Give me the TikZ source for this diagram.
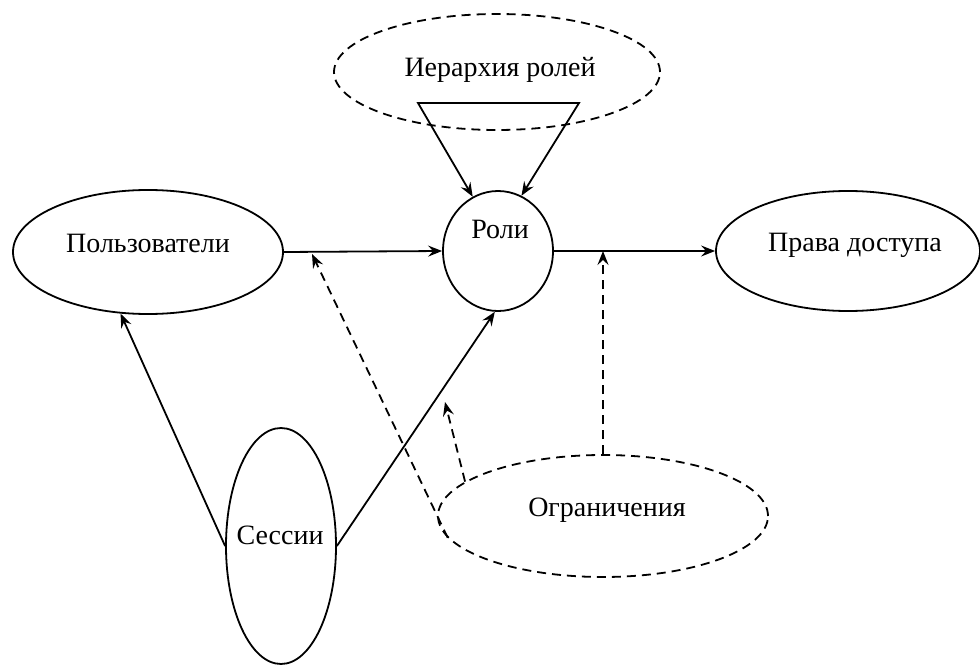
\documentclass[tikz,border=0pt]{standalone}
\usepackage{fontspec}
\setmainfont{Liberation Serif}
\usetikzlibrary{shapes.geometric,arrows.meta,calc}
\begin{document}
\begin{tikzpicture}[x=1pt,y=-1pt,
  every node/.style={inner sep=0pt},
  ell/.style={ellipse,draw,line width=1.8pt,inner sep=0pt},
  dsh/.style={dash pattern=on 9pt off 6pt},
  lbl/.style={font=\fontsize{28}{32}\selectfont},
  ln/.style={line width=1.8pt},
  arr/.style={ln,-{Stealth[length=14pt,width=11pt,inset=5pt]}},
  darr/.style={ln,dsh,-{Stealth[length=14pt,width=11pt,inset=5pt]}}]
\useasboundingbox (0,0) rectangle (980,666);
% shapes
\node[ell,dsh,minimum width=326pt,minimum height=116pt] (hier) at (497,72) {};
\node[ell,minimum width=270pt,minimum height=124pt] (pol) at (148,252) {};
\node[ell,minimum width=110pt,minimum height=120pt] (rol) at (498,251) {};
\node[ell,minimum width=264pt,minimum height=120pt] (prava) at (848,251) {};
\node[ell,minimum width=110pt,minimum height=236pt] (ses) at (281,546) {};
\node[ell,dsh,minimum width=330pt,minimum height=122pt] (ogr) at (603,516) {};
% labels
\node[lbl] (hiert) at (500,70) {Иерархия ролей};
\node[lbl] (polt) at (148,243) {Пользователи};
\node[lbl] (rolt) at (500,229) {Роли};
\node[lbl] (pravat) at (855,245) {Права доступа};
\node[lbl] (sest) at (280,535) {Сессии};
\node[lbl] (ogrt) at (607,510) {Ограничения};
% helper coordinates
\coordinate (t1) at (418,103);
\coordinate (t2) at (579,103);
\coordinate (d1) at (312,254);
\coordinate (d2) at (445,402);
% solid connectors
\draw[ln,{Stealth[length=14pt,width=11pt,inset=5pt]}-{Stealth[length=14pt,width=11pt,inset=5pt]}]
  (rol.115) -- (t1) -- (t2) -- (rol.67);
\draw[arr] (pol.east) -- (rol.west);
\draw[arr] (rol.east) -- (prava.west);
\draw[arr] (ses.west) -- (pol.246);
\draw[arr] (ses.east) -- (rol.267);
% dashed connectors
\draw[darr] (ogr.188) -- (d1);
\draw[darr] (ogr.166) -- (d2);
\draw[darr] (ogr.north) -- (ogr.north |- rol.east);
\end{tikzpicture}
\end{document}
